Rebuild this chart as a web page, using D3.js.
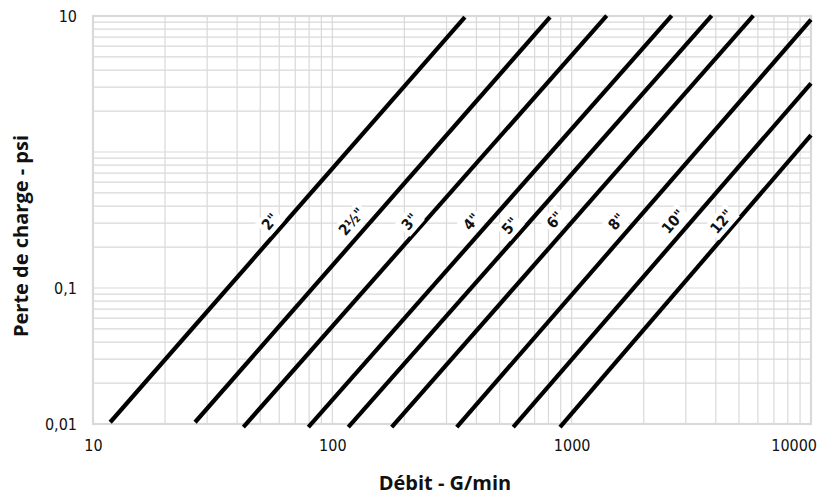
<!DOCTYPE html>
<html>
<head>
<meta charset="utf-8">
<script src="https://cdn.jsdelivr.net/npm/d3@7"></script>
<style>
  html, body { margin: 0; padding: 0; background: #fff; }
  svg { display: block; }
</style>
</head>
<body>
<svg id="chart" width="827" height="498"></svg>
<script>
// ---- data ----
const pipeSizes = ['2"', '2½"', '3"', '4"', '5"', '6"', '8"', '10"', '12"'];
const startFlow = [11.8, 26.7, 42.5, 79.4, 116.6, 177, 331, 570, 894];
const startLoss = [0.0103, 0.0103, 0.0095, 0.0095, 0.0095, 0.0095, 0.0095, 0.0095, 0.0095];
const endFlow   = [358, 812, 1401, 2618, 3846, 5741, 10000, 10000, 10000];
const endLoss   = [9.8, 9.83, 10.05, 10.05, 10.05, 10.05, 9.4, 3.2, 1.33];
const labelFlow = [54.9, 120.5, 211, 382, 553, 852, 1542, 2659, 4236];
const labelLoss = [0.307, 0.307, 0.307, 0.307, 0.286, 0.316, 0.307, 0.307, 0.307];
const xTicks = [10, 100, 1000, 10000];
const xTickLabels = ['10', '100', '1000', '10000'];
const yTicks = [0.01, 0.1, 1, 10];
const yTickLabels = ['0,01', '0,1', '', '10'];
const xTitle = 'Débit - G/min';
const yTitle = 'Perte de charge - psi';

// ---- layout ----
const svg = d3.select('#chart');
const L = 93, R = 811, T = 16, B = 424;
const x = d3.scaleLog().domain([10, 10000]).range([L, R]);
const y = d3.scaleLog().domain([0.01, 10]).range([B, T]);
const tickFont = "'Liberation Sans Narrow', 'DejaVu Sans Condensed', sans-serif";
const titleFont = "'Open Sans', 'DejaVu Sans', sans-serif";
const gridColor = '#d9d9d9';

// minor + major grid values
function logGrid(lo, hi) {
  const v = [];
  for (let d = lo; d < hi; d *= 10) for (let k = 1; k <= 9; k++) v.push(d * k);
  v.push(hi);
  return v;
}
const gx = logGrid(10, 10000);
const gy = logGrid(0.01, 10);

const grid = svg.append('g');
grid.selectAll('line.vx').data(gx).join('line')
  .attr('x1', d => x(d)).attr('x2', d => x(d))
  .attr('y1', T).attr('y2', B)
  .attr('stroke', gridColor).attr('stroke-width', 1.2);
grid.selectAll('line.hy').data(gy).join('line')
  .attr('y1', d => y(d)).attr('y2', d => y(d))
  .attr('x1', L).attr('x2', R)
  .attr('stroke', gridColor).attr('stroke-width', 1.2);
grid.append('rect').attr('x', L).attr('y', T).attr('width', R - L).attr('height', B - T)
  .attr('fill', 'none').attr('stroke', gridColor).attr('stroke-width', 2.2);

// axes (text only)
const xAxis = svg.append('g').attr('transform', `translate(0,${B})`)
  .call(d3.axisBottom(x).tickValues(xTicks).tickFormat((d, i) => xTickLabels[i]).tickSize(0).tickPadding(16));
xAxis.select('.domain').remove();
xAxis.selectAll('text').attr('font-family', tickFont).attr('font-size', 16).attr('fill', '#111')
  .each(function() {
    const bb = this.getBBox();
    const t = d3.select(this.parentNode).attr('transform');
    const tx = +/translate\(([-\d.]+)/.exec(t)[1];
    if (tx + bb.x + bb.width > 817) d3.select(this).attr('dx', 817 - (tx + bb.x + bb.width));
  });

const yAxis = svg.append('g').attr('transform', `translate(${L},0)`)
  .call(d3.axisLeft(y).tickValues(yTicks).tickFormat((d, i) => yTickLabels[i]).tickSize(0).tickPadding(16));
yAxis.select('.domain').remove();
yAxis.selectAll('text').attr('font-family', tickFont).attr('font-size', 16).attr('fill', '#111');

// pipe lines
const line = d3.line().x(d => x(d[0])).y(d => y(d[1]));
svg.append('g').selectAll('path').data(pipeSizes).join('path')
  .attr('d', (d, i) => line([[startFlow[i], startLoss[i]], [endFlow[i], endLoss[i]]]))
  .attr('fill', 'none').attr('stroke', '#000').attr('stroke-width', 4.2);

// labels
const angle = -49;
const lg = svg.append('g').selectAll('g').data(pipeSizes).join('g')
  .attr('transform', (d, i) => `translate(${x(labelFlow[i])},${y(labelLoss[i])}) rotate(${angle})`);
lg.append('text').text(d => d)
  .attr('text-anchor', 'middle').attr('dominant-baseline', 'central')
  .attr('font-family', tickFont).attr('font-size', 15).attr('font-weight', 'bold').attr('fill', '#111');
lg.each(function() {
  const g = d3.select(this);
  const bb = g.select('text').node().getBBox();
  g.insert('rect', 'text').attr('x', bb.x - 3).attr('y', bb.y - 1)
    .attr('width', bb.width + 6).attr('height', bb.height + 2).attr('fill', '#fff');
});

// titles
svg.append('text').attr('x', 445).attr('y', 490)
  .attr('text-anchor', 'middle').attr('font-family', titleFont).attr('font-weight', 'bold')
  .attr('font-size', 20).attr('fill', '#111').text(xTitle);
svg.append('text').attr('transform', `translate(28,236) rotate(-90)`)
  .attr('text-anchor', 'middle').attr('font-family', titleFont).attr('font-weight', 'bold')
  .attr('font-size', 20).attr('fill', '#111').text(yTitle);
</script>
</body>
</html>
